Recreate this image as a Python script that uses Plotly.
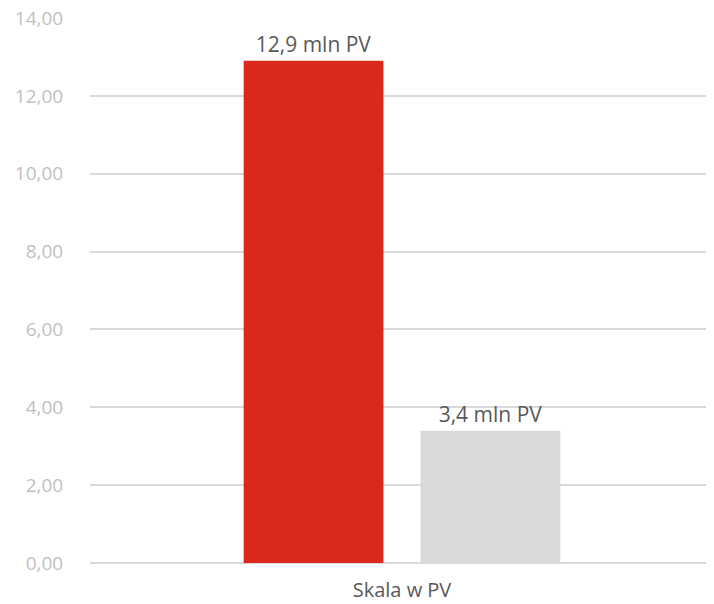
import plotly.graph_objects as go

category = ["Skala w PV"]
series_names = ["Seria A", "Seria B"]
series_values = [[12.9], [3.4]]
series_colors = ["#DA291C", "#D9D9D9"]
y_ticks = [0, 2, 4, 6, 8, 10, 12, 14]
y_tick_labels = ["0,00", "2,00", "4,00", "6,00", "8,00", "10,00", "12,00", "14,00"]

FONT = "Open Sans"

fig = go.Figure()
for name, vals, col in zip(series_names, series_values, series_colors):
    fig.add_trace(go.Bar(
        x=category, y=vals, name=name,
        marker=dict(color=col, line=dict(width=0)),
        text=[f"{v:.1f}".replace(".", ",") + " mln PV" for v in vals],
        textposition="outside",
        textfont=dict(family=FONT, size=21, color="#595959"),
        cliponaxis=False,
    ))

fig.update_layout(
    width=706, height=596,
    margin=dict(l=82, r=0, t=10, b=41, autoexpand=False),
    plot_bgcolor="white", paper_bgcolor="white",
    barmode="group", bargap=0.433, bargroupgap=0.21,
    showlegend=False,
    font=dict(family=FONT, color="#595959"),
    xaxis=dict(showgrid=False, showline=False,
               ticks="outside", ticklen=9, tickcolor="rgba(0,0,0,0)",
               automargin=False, ticklabeloverflow="allow",
               tickfont=dict(family=FONT, size=20, color="#595959")),
    yaxis=dict(range=[0, 14], tickvals=y_ticks, ticktext=y_tick_labels,
               showgrid=True, gridcolor="#D9D9D9", gridwidth=1.5,
               zeroline=True, zerolinecolor="#D9D9D9", zerolinewidth=2,
               showline=False,
               ticks="outside", ticklen=22, tickcolor="rgba(0,0,0,0)",
               automargin=False, ticklabeloverflow="allow",
               tickfont=dict(family=FONT, size=19, color="#BFBFBF")),
)

fig.write_html("out.html")
